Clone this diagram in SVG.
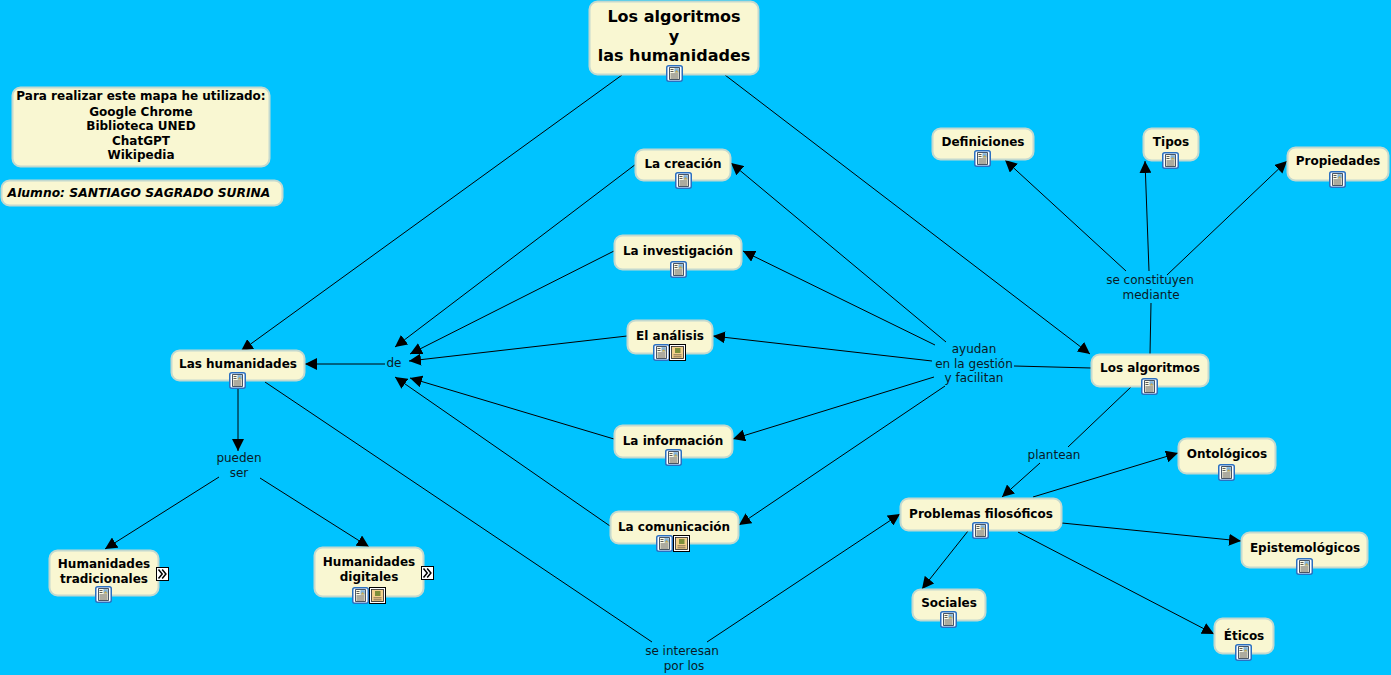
<svg xmlns="http://www.w3.org/2000/svg" width="1391" height="675" viewBox="0 0 1391 675">
<style>
text{font-family:"DejaVu Sans",Verdana,sans-serif;text-anchor:middle;fill:#000}
.b{fill:#f9f7d2;stroke:#c3d9cf;stroke-width:2}
.n{font-size:12px;font-weight:bold}
.l{font-size:12px;fill:#0a1a26}
.t{font-size:16px;font-weight:bold}
.c line{stroke:#000;stroke-width:1;fill:none}
.c line.a{marker-end:url(#ah)}
</style>
<defs>
<marker id="ah" markerUnits="userSpaceOnUse" markerWidth="13" markerHeight="12" refX="12" refY="6" orient="auto"><path d="M0 0L12 6L0 12Z" fill="#000"/></marker>
<symbol id="doc" width="17" height="17" viewBox="0 0 17 17"><rect x="0.75" y="0.75" width="15.5" height="15.5" rx="2" fill="#fff" stroke="#2a6fc0" stroke-width="1.5"/><path d="M3.5 14.5V2.5H13.5V14.5Z" fill="#fdfbe6" stroke="#1a2a40" stroke-width=".8"/><rect x="8.5" y="3.2" width="4.3" height="4.3" fill="#7fb0d8"/><path d="M8.7 7.5L10.5 5L12.7 7.5Z" fill="#c8a850"/><path d="M4.5 4.5h3M4.5 6.5h3M4.5 9h8M4.5 11h8M4.5 13h8" stroke="#333" stroke-width=".8"/></symbol>
<symbol id="pic" width="17" height="17" viewBox="0 0 17 17"><rect x="0.5" y="0.5" width="16" height="16" fill="#fff" stroke="#000"/><rect x="2.5" y="2.5" width="12" height="12" fill="#f3d08c" stroke="#222" stroke-width=".8"/><rect x="6" y="4" width="5.5" height="5" fill="#7d8f3a"/><path d="M4.5 10.8h8M4.5 12.8h8" stroke="#654" stroke-width=".8"/></symbol>
<symbol id="more" width="13" height="14" viewBox="0 0 13 14"><rect x="0.5" y="0.5" width="12" height="13" fill="#fff" stroke="#000"/><path d="M2.5 2.5L6.2 7L2.5 11.5M6.2 2.5L9.9 7L6.2 11.5" fill="none" stroke="#000" stroke-width="1.5"/></symbol>
</defs>
<rect width="1391" height="675" fill="#00c3ff"/>
<g id="connectors" class="c">
<line x1="622" y1="75" class="a" x2="241" y2="351"/>
<line x1="725" y1="75" class="a" x2="1090" y2="354"/>
<line x1="636" y1="164" class="a" x2="395" y2="347"/>
<line x1="614" y1="251" class="a" x2="410" y2="354"/>
<line x1="627" y1="336" class="a" x2="409" y2="361"/>
<line x1="614" y1="439" class="a" x2="410" y2="378"/>
<line x1="610" y1="526" class="a" x2="395" y2="377"/>
<line x1="385" y1="364" class="a" x2="305" y2="364"/>
<line x1="946" y1="342" class="a" x2="731" y2="163"/>
<line x1="935" y1="345" class="a" x2="743" y2="251"/>
<line x1="932" y1="361" class="a" x2="713" y2="336"/>
<line x1="1091" y1="368" x2="1014" y2="366"/>
<line x1="934" y1="377" class="a" x2="733" y2="439"/>
<line x1="945" y1="386" class="a" x2="739" y2="525"/>
<line x1="238" y1="388" class="a" x2="238" y2="451"/>
<line x1="219" y1="477" class="a" x2="105" y2="549"/>
<line x1="260" y1="478" class="a" x2="369" y2="547"/>
<line x1="265" y1="382" x2="652" y2="642"/>
<line x1="707" y1="642" class="a" x2="900" y2="514"/>
<line x1="1150" y1="354" x2="1151" y2="303"/>
<line x1="1126" y1="271" class="a" x2="1005" y2="160"/>
<line x1="1149" y1="271" class="a" x2="1145" y2="161"/>
<line x1="1167" y1="275" class="a" x2="1287" y2="161"/>
<line x1="1131" y1="387" x2="1068" y2="447"/>
<line x1="1040" y1="463" class="a" x2="1002" y2="497"/>
<line x1="1033" y1="497" class="a" x2="1178" y2="453"/>
<line x1="1062" y1="523" class="a" x2="1241" y2="541"/>
<line x1="1018" y1="532" class="a" x2="1214" y2="634"/>
<line x1="968" y1="531" class="a" x2="922" y2="589"/>
</g>
<g id="link-labels">
<text class="l" x="394" y="367">de</text>
<text class="l" x="974" y="353">ayudan</text><text class="l" x="974" y="368">en la gestión</text><text class="l" x="974" y="382">y facilitan</text>
<text class="l" x="239" y="462">pueden</text><text class="l" x="239" y="477">ser</text>
<text class="l" x="682" y="655">se interesan</text><text class="l" x="684" y="670">por los</text>
<text class="l" x="1150" y="284">se constituyen</text><text class="l" x="1151" y="299">mediante</text>
<text class="l" x="1054" y="459">plantean</text>
</g>
<g id="n-title"><rect class="b" x="589.5" y="1.5" width="169" height="73" rx="8"/><text class="t" x="674" y="22">Los algoritmos</text><text class="t" x="674" y="42">y</text><text class="t" x="674" y="61">las humanidades</text><use href="#doc" x="666" y="65"/></g>
<g id="n-info"><rect class="b" x="12.5" y="87.5" width="257" height="79" rx="8"/><text class="n" x="141" y="100">Para realizar este mapa he utilizado:</text><text class="n" x="141" y="116">Google Chrome</text><text class="n" x="141" y="130">Biblioteca UNED</text><text class="n" x="141" y="145">ChatGPT</text><text class="n" x="141" y="159">Wikipedia</text></g>
<g id="n-alumno"><rect class="b" x="1.5" y="180.5" width="281" height="25" rx="8"/><text class="n" x="139" y="197" style="font-style:italic;font-size:12.3px">Alumno: SANTIAGO SAGRADO SURINA</text></g>
<g id="n-creacion"><rect class="b" x="635.5" y="149.5" width="95" height="31" rx="8"/><text class="n" x="683" y="168">La creación</text><use href="#doc" x="675" y="172"/></g>
<g id="n-investigacion"><rect class="b" x="614.5" y="235.5" width="127" height="34" rx="8"/><text class="n" x="678" y="255">La investigación</text><use href="#doc" x="670" y="261"/></g>
<g id="n-analisis"><rect class="b" x="627.5" y="320.5" width="85" height="33" rx="8"/><text class="n" x="670" y="340">El análisis</text><use href="#doc" x="653" y="344"/><use href="#pic" x="669" y="344"/></g>
<g id="n-informacion"><rect class="b" x="614.5" y="425.5" width="118" height="32" rx="8"/><text class="n" x="673" y="445">La información</text><use href="#doc" x="665" y="449"/></g>
<g id="n-comunicacion"><rect class="b" x="610.5" y="511.5" width="128" height="32" rx="8"/><text class="n" x="674" y="531">La comunicación</text><use href="#doc" x="656" y="535"/><use href="#pic" x="673" y="535"/></g>
<g id="n-humanidades"><rect class="b" x="171.5" y="350.5" width="133" height="30" rx="8"/><text class="n" x="238" y="368">Las humanidades</text><use href="#doc" x="229" y="372"/></g>
<g id="n-tradicionales"><rect class="b" x="49.5" y="550.5" width="109" height="45" rx="8"/><text class="n" x="104" y="568">Humanidades</text><text class="n" x="104" y="583">tradicionales</text><use href="#doc" x="95" y="586"/><use href="#more" x="156" y="567"/></g>
<g id="n-digitales"><rect class="b" x="314.5" y="547.5" width="109" height="49" rx="8"/><text class="n" x="369" y="566">Humanidades</text><text class="n" x="369" y="581">digitales</text><use href="#doc" x="352" y="587"/><use href="#pic" x="369" y="587"/><use href="#more" x="421" y="566"/></g>
<g id="n-algoritmos"><rect class="b" x="1091.5" y="354.5" width="117" height="32" rx="8"/><text class="n" x="1150" y="372">Los algoritmos</text><use href="#doc" x="1141" y="378"/></g>
<g id="n-definiciones"><rect class="b" x="932.5" y="128.5" width="101" height="31" rx="8"/><text class="n" x="983" y="146">Definiciones</text><use href="#doc" x="974" y="150"/></g>
<g id="n-tipos"><rect class="b" x="1143.5" y="128.5" width="55" height="32" rx="8"/><text class="n" x="1171" y="146">Tipos</text><use href="#doc" x="1162" y="152"/></g>
<g id="n-propiedades"><rect class="b" x="1287.5" y="147.5" width="101" height="33" rx="8"/><text class="n" x="1338" y="165">Propiedades</text><use href="#doc" x="1329" y="171"/></g>
<g id="n-problemas"><rect class="b" x="900.5" y="498.5" width="161" height="32" rx="8"/><text class="n" x="981" y="518">Problemas filosóficos</text><use href="#doc" x="972" y="522"/></g>
<g id="n-ontologicos"><rect class="b" x="1178.5" y="438.5" width="97" height="35" rx="8"/><text class="n" x="1227" y="458">Ontológicos</text><use href="#doc" x="1218" y="464"/></g>
<g id="n-epistemologicos"><rect class="b" x="1241.5" y="532.5" width="126" height="35" rx="8"/><text class="n" x="1305" y="552">Epistemológicos</text><use href="#doc" x="1296" y="558"/></g>
<g id="n-eticos"><rect class="b" x="1214.5" y="618.5" width="59" height="35" rx="8"/><text class="n" x="1244" y="640">Éticos</text><use href="#doc" x="1235" y="644"/></g>
<g id="n-sociales"><rect class="b" x="912.5" y="589.5" width="73" height="31" rx="8"/><text class="n" x="949" y="607">Sociales</text><use href="#doc" x="940" y="611"/></g>
</svg>
